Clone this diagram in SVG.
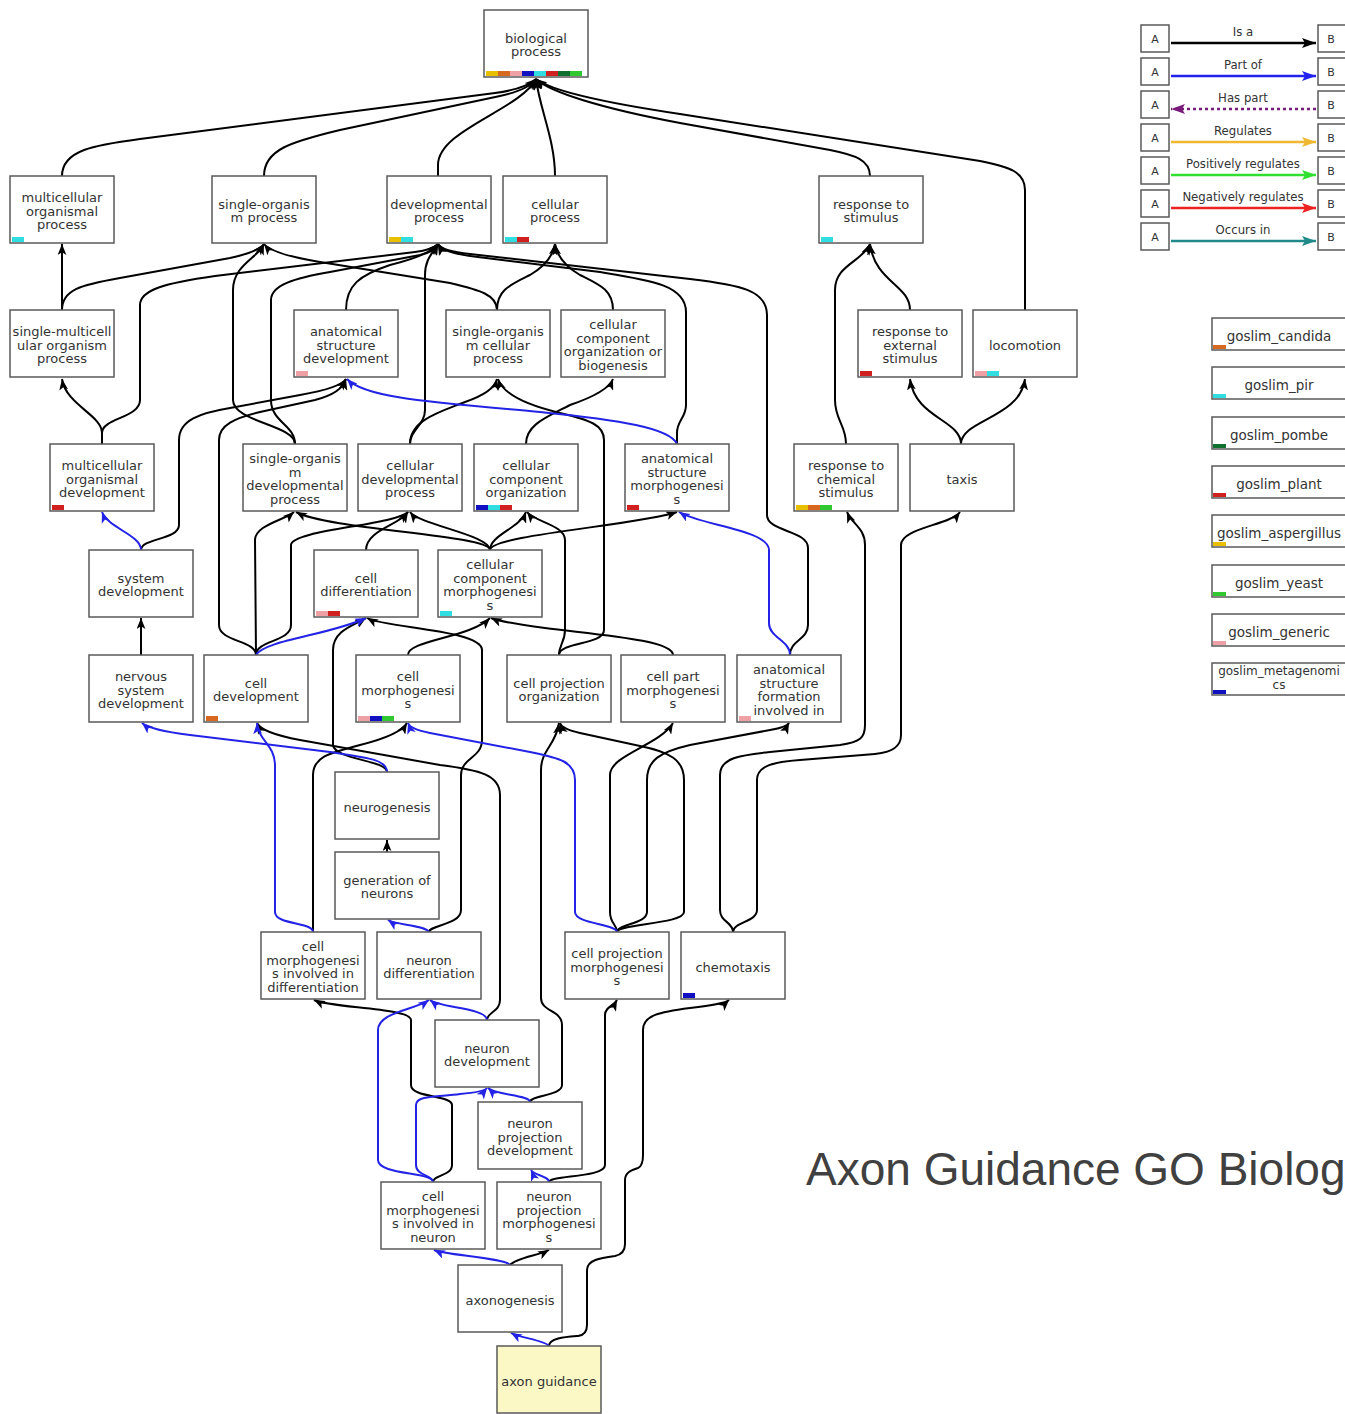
<svg xmlns="http://www.w3.org/2000/svg" width="1345" height="1414" viewBox="0 0 1345 1414">
<style>
.bx{fill:#fff;stroke:#5a5a5a;stroke-width:1.5}
.t{font-family:"DejaVu Sans",sans-serif;font-size:13px;fill:#333;text-anchor:middle}
.e{fill:none;stroke:#000;stroke-width:2;marker-end:url(#ak)}
.p{fill:none;stroke:#2323e6;stroke-width:2;marker-end:url(#ab)}
.y{fill:#e8c000}.o{fill:#d86820}.k{fill:#eea0a4}.b{fill:#1010c0}.c{fill:#30dde0}.r{fill:#d02020}.g{fill:#107030}.l{fill:#30c830}
.lt{font-family:"DejaVu Sans Condensed","DejaVu Sans",sans-serif;font-size:13px;fill:#333;text-anchor:middle}
.la{font-family:"DejaVu Sans",sans-serif;font-size:11px;fill:#333;text-anchor:middle}
.lb{fill:#fff;stroke:#5a5a5a;stroke-width:1.5}
.ll{fill:none;stroke-width:2.5}
.gs{font-family:"DejaVu Sans",sans-serif;font-size:13.5px;fill:#333;text-anchor:middle}
</style>
<defs>
<marker id="ak" viewBox="0 0 10 8" refX="10" refY="4" markerWidth="11" markerHeight="9" markerUnits="userSpaceOnUse" orient="auto"><path d="M0,0 L10,4 L0,8 L2.5,4 z" fill="#000"/></marker>
<marker id="ab" viewBox="0 0 10 8" refX="10" refY="4" markerWidth="11" markerHeight="9" markerUnits="userSpaceOnUse" orient="auto"><path d="M0,0 L10,4 L0,8 L2.5,4 z" fill="#2323e6"/></marker>
<marker id="m0" viewBox="0 0 14 10" refX="14" refY="5" markerWidth="14" markerHeight="10" markerUnits="userSpaceOnUse" orient="auto"><path d="M0,0 L14,5 L0,10 L3,5 z" fill="#000"/></marker>
<marker id="m1" viewBox="0 0 14 10" refX="14" refY="5" markerWidth="14" markerHeight="10" markerUnits="userSpaceOnUse" orient="auto"><path d="M0,0 L14,5 L0,10 L3,5 z" fill="#2222ee"/></marker>
<marker id="m2" viewBox="0 0 14 10" refX="14" refY="5" markerWidth="14" markerHeight="10" markerUnits="userSpaceOnUse" orient="auto"><path d="M0,0 L14,5 L0,10 L3,5 z" fill="#7a1a7a"/></marker>
<marker id="m3" viewBox="0 0 14 10" refX="14" refY="5" markerWidth="14" markerHeight="10" markerUnits="userSpaceOnUse" orient="auto"><path d="M0,0 L14,5 L0,10 L3,5 z" fill="#f0b830"/></marker>
<marker id="m4" viewBox="0 0 14 10" refX="14" refY="5" markerWidth="14" markerHeight="10" markerUnits="userSpaceOnUse" orient="auto"><path d="M0,0 L14,5 L0,10 L3,5 z" fill="#30e030"/></marker>
<marker id="m5" viewBox="0 0 14 10" refX="14" refY="5" markerWidth="14" markerHeight="10" markerUnits="userSpaceOnUse" orient="auto"><path d="M0,0 L14,5 L0,10 L3,5 z" fill="#ee2222"/></marker>
<marker id="m6" viewBox="0 0 14 10" refX="14" refY="5" markerWidth="14" markerHeight="10" markerUnits="userSpaceOnUse" orient="auto"><path d="M0,0 L14,5 L0,10 L3,5 z" fill="#208a8a"/></marker>
</defs>

<g id="connectors">
<path class="e" d="M62,176 C62,150 95,145 140,139 L495,93 Q525,89 536,79"/>
<path class="e" d="M264,176 C264,150 290,142 340,130 L500,96 Q528,90 536,79"/>
<path class="e" d="M438,176 L438,165 C438,130 520,110 536,79"/>
<path class="e" d="M555,176 C555,140 540,110 536,79"/>
<path class="e" d="M870,176 C870,160 855,155 830,150 L680,123 C600,108 550,92 536,79"/>
<path class="e" d="M1025,310 L1025,190 C1025,172 1010,167 980,161 L680,114 C600,102 550,90 536,79"/>
<path class="e" d="M62,310 L62,244"/>
<path class="e" d="M62,310 C62,290 80,285 120,278 L230,258 Q258,252 264,244"/>
<path class="e" d="M102,444 L102,433 C102,415 66,405 62,379"/>
<path class="e" d="M102,444 L102,433 C102,418 140,418 140,400 L140,305 C140,290 165,283 215,276 L415,252 Q432,250 438,244"/>
<path class="e" d="M295,444 C295,425 233,422 233,400 L233,290 C233,265 258,258 264,244"/>
<path class="e" d="M295,444 C295,425 271,422 271,400 L271,300 C271,285 295,278 330,272 L420,255 Q434,252 438,244"/>
<path class="e" d="M346,310 C346,285 360,275 390,265 Q430,255 438,244"/>
<path class="e" d="M410,444 C410,430 425,425 425,410 L425,275 C425,258 434,252 438,244"/>
<path class="e" d="M497,310 C497,295 480,290 450,283 L320,262 Q272,254 264,244"/>
<path class="e" d="M497,310 C497,290 510,285 530,275 Q552,262 555,244"/>
<path class="e" d="M613,310 C613,290 600,285 580,275 Q558,262 555,244"/>
<path class="e" d="M677,444 L677,433 C677,420 686,418 686,405 L686,312 C686,285 650,280 600,272 L470,256 Q442,252 438,244"/>
<path class="e" d="M790,655 C790,640 808,640 808,625 L808,548 C808,530 767,532 767,515 L767,315 C767,290 740,285 690,279 L470,254 Q442,251 438,244"/>
<path class="e" d="M410,444 C410,420 440,412 465,402 Q494,392 497,379"/>
<path class="e" d="M526,444 C526,425 545,418 570,405 Q608,392 613,379"/>
<path class="e" d="M141,550 C141,538 179,540 179,525 L179,440 C179,420 200,413 230,408 L300,395 Q340,388 346,379"/>
<path class="e" d="M256,655 C256,640 219,642 219,625 L219,440 C219,425 235,418 260,412 L315,400 Q342,393 346,379"/>
<path class="e" d="M256,655 L255,540 C255,525 285,520 294,512"/>
<path class="e" d="M256,655 C256,640 291,642 291,625 L291,545 C291,530 395,525 408,512"/>
<path class="e" d="M366,550 C366,530 400,525 408,512"/>
<path class="e" d="M490,550 C490,535 330,530 296,512"/>
<path class="e" d="M490,550 C490,535 420,525 410,512"/>
<path class="e" d="M490,550 C490,535 520,528 526,512"/>
<path class="e" d="M490,550 C490,535 640,525 677,512"/>
<path class="e" d="M559,655 C559,645 565,642 565,630 L565,540 C565,525 535,522 527,512"/>
<path class="e" d="M559,655 C559,642 604,645 604,630 L604,440 C604,425 590,420 560,413 Q505,400 498,379"/>
<path class="e" d="M673,655 C673,640 600,635 545,628 Q500,622 491,618"/>
<path class="e" d="M408,655 C408,640 470,638 490,618"/>
<path class="e" d="M141,655 L141,618"/>
<path class="e" d="M387,772 C387,760 335,760 333,745 L333,650 C333,630 355,625 366,618"/>
<path class="e" d="M387,852 L387,840"/>
<path class="e" d="M429,932 C429,925 461,925 461,910 L461,775 C461,758 482,758 482,740 L482,650 C482,630 385,628 367,618"/>
<path class="e" d="M313,932 L313,775 C313,755 335,752 360,745 Q400,735 407,723"/>
<path class="e" d="M487,1020 C487,1012 500,1012 500,1000 L500,795 C500,775 480,770 440,765 L300,740 Q262,733 257,723"/>
<path class="e" d="M433,1182 C433,1175 452,1176 452,1165 L452,1105 C452,1095 411,1098 411,1085 L411,1020 C411,1008 330,1008 314,1000"/>
<path class="e" d="M530,1102 C530,1095 562,1096 562,1085 L562,1025 C562,1010 541,1012 541,998 L541,770 C541,750 556,745 559,723"/>
<path class="e" d="M549,1182 C549,1175 605,1178 605,1165 L605,1015 C605,1007 614,1006 617,1000"/>
<path class="e" d="M510,1265 C515,1258 540,1255 549,1250"/>
<path class="e" d="M549,1346 C549,1338 565,1337 578,1336 Q587,1335 587,1325 L587,1270 C587,1260 600,1258 615,1256 Q625,1254 625,1244 L625,1180 C625,1172 632,1170 638,1168 Q643,1166 643,1155 L643,1030 C643,1015 660,1012 690,1008 Q725,1004 729,1000"/>
<path class="e" d="M617,932 C617,924 610,924 610,912 L610,775 C610,755 660,745 673,723"/>
<path class="e" d="M617,932 C617,924 647,924 647,912 L647,780 C647,760 660,752 690,745 L770,730 Q787,727 789,723"/>
<path class="e" d="M617,932 C617,924 684,924 684,912 L684,780 C684,760 670,752 640,746 L580,733 Q562,729 560,723"/>
<path class="e" d="M733,932 C733,922 720,922 720,910 L720,775 C720,758 740,755 770,752 L840,745 C860,742 865,738 865,725 L865,545 C865,528 852,524 847,512"/>
<path class="e" d="M733,932 C733,922 757,922 757,910 L757,780 C757,765 775,762 800,760 L875,754 C895,752 901,745 901,735 L901,545 C901,528 950,525 960,512"/>
<path class="e" d="M846,444 C846,425 835,420 835,400 L835,290 C835,265 862,262 870,244"/>
<path class="e" d="M910,310 C910,285 875,282 870,244"/>
<path class="e" d="M961,444 C961,420 915,418 910,379"/>
<path class="e" d="M961,444 C961,420 1020,418 1025,379"/>
<path class="p" d="M790,655 C790,640 769,638 769,623 L769,550 C769,530 700,525 679,512"/>
<path class="p" d="M677,444 C670,428 620,420 540,412 C430,402 365,398 347,379"/>
<path class="p" d="M141,550 C141,535 108,528 102,512"/>
<path class="p" d="M256,655 C265,640 330,635 366,618"/>
<path class="p" d="M387,772 C387,760 370,758 330,752 L190,735 Q150,730 142,723"/>
<path class="p" d="M429,932 C425,925 395,925 388,920"/>
<path class="p" d="M313,932 C313,922 275,925 275,912 L275,765 C275,745 258,740 257,723"/>
<path class="p" d="M487,1020 C487,1008 440,1008 430,1000"/>
<path class="p" d="M433,1182 C433,1172 378,1175 378,1160 L378,1030 C378,1012 415,1010 429,1000"/>
<path class="p" d="M433,1182 C433,1175 416,1176 416,1165 L416,1105 C416,1095 440,1097 460,1094 Q484,1092 487,1088"/>
<path class="p" d="M530,1102 C530,1095 495,1095 488,1088"/>
<path class="p" d="M549,1182 C549,1176 533,1175 531,1170"/>
<path class="p" d="M510,1265 C505,1258 445,1255 434,1250"/>
<path class="p" d="M549,1346 C545,1340 520,1338 511,1333"/>
<path class="p" d="M617,932 C617,924 575,924 575,912 L575,780 C575,762 560,758 530,752 L430,733 Q410,729 408,723"/>
</g>

<g id="n-bp"><rect class="bx" x="484" y="10" width="104" height="67"/><text class="t"><tspan x="536" y="42.8">biological</tspan><tspan x="536" y="56.2">process</tspan></text><rect class="y" x="486" y="71" width="12" height="5"/><rect class="o" x="498" y="71" width="12" height="5"/><rect class="k" x="510" y="71" width="12" height="5"/><rect class="b" x="522" y="71" width="12" height="5"/><rect class="c" x="534" y="71" width="12" height="5"/><rect class="r" x="546" y="71" width="12" height="5"/><rect class="g" x="558" y="71" width="12" height="5"/><rect class="l" x="570" y="71" width="12" height="5"/></g>
<g id="n-mop"><rect class="bx" x="10" y="176" width="104" height="67"/><text class="t"><tspan x="62" y="202.1">multicellular</tspan><tspan x="62" y="215.5">organismal</tspan><tspan x="62" y="228.9">process</tspan></text><rect class="c" x="12" y="237" width="12" height="5"/></g>
<g id="n-sop"><rect class="bx" x="212" y="176" width="104" height="67"/><text class="t"><tspan x="264" y="208.8">single-organis</tspan><tspan x="264" y="222.2">m process</tspan></text></g>
<g id="n-dp"><rect class="bx" x="387" y="176" width="104" height="67"/><text class="t"><tspan x="439" y="208.8">developmental</tspan><tspan x="439" y="222.2">process</tspan></text><rect class="y" x="389" y="237" width="12" height="5"/><rect class="c" x="401" y="237" width="12" height="5"/></g>
<g id="n-cp"><rect class="bx" x="503" y="176" width="104" height="67"/><text class="t"><tspan x="555" y="208.8">cellular</tspan><tspan x="555" y="222.2">process</tspan></text><rect class="c" x="505" y="237" width="12" height="5"/><rect class="r" x="517" y="237" width="12" height="5"/></g>
<g id="n-rs"><rect class="bx" x="819" y="176" width="104" height="67"/><text class="t"><tspan x="871" y="208.8">response to</tspan><tspan x="871" y="222.2">stimulus</tspan></text><rect class="c" x="821" y="237" width="12" height="5"/></g>

<g id="n-smop"><rect class="bx" x="10" y="310" width="104" height="67"/><text class="t"><tspan x="62" y="336.1">single-multicell</tspan><tspan x="62" y="349.5">ular organism</tspan><tspan x="62" y="362.9">process</tspan></text></g>
<g id="n-asd"><rect class="bx" x="294" y="310" width="104" height="67"/><text class="t"><tspan x="346" y="336.1">anatomical</tspan><tspan x="346" y="349.5">structure</tspan><tspan x="346" y="362.9">development</tspan></text><rect class="k" x="296" y="371" width="12" height="5"/></g>
<g id="n-socp"><rect class="bx" x="446" y="310" width="104" height="67"/><text class="t"><tspan x="498" y="336.1">single-organis</tspan><tspan x="498" y="349.5">m cellular</tspan><tspan x="498" y="362.9">process</tspan></text></g>
<g id="n-ccob"><rect class="bx" x="561" y="310" width="104" height="67"/><text class="t"><tspan x="613" y="329.4">cellular</tspan><tspan x="613" y="342.8">component</tspan><tspan x="613" y="356.2">organization or</tspan><tspan x="613" y="369.6">biogenesis</tspan></text></g>
<g id="n-res"><rect class="bx" x="858" y="310" width="104" height="67"/><text class="t"><tspan x="910" y="336.1">response to</tspan><tspan x="910" y="349.5">external</tspan><tspan x="910" y="362.9">stimulus</tspan></text><rect class="r" x="860" y="371" width="12" height="5"/></g>
<g id="n-loc"><rect class="bx" x="973" y="310" width="104" height="67"/><text class="t"><tspan x="1025" y="349.5">locomotion</tspan></text><rect class="k" x="975" y="371" width="12" height="5"/><rect class="c" x="987" y="371" width="12" height="5"/></g>

<g id="n-mod"><rect class="bx" x="50" y="444" width="104" height="67"/><text class="t"><tspan x="102" y="470.1">multicellular</tspan><tspan x="102" y="483.5">organismal</tspan><tspan x="102" y="496.9">development</tspan></text><rect class="r" x="52" y="505" width="12" height="5"/></g>
<g id="n-sodp"><rect class="bx" x="243" y="444" width="104" height="67"/><text class="t"><tspan x="295" y="463.4">single-organis</tspan><tspan x="295" y="476.8">m</tspan><tspan x="295" y="490.2">developmental</tspan><tspan x="295" y="503.6">process</tspan></text></g>
<g id="n-cdp"><rect class="bx" x="358" y="444" width="104" height="67"/><text class="t"><tspan x="410" y="470.1">cellular</tspan><tspan x="410" y="483.5">developmental</tspan><tspan x="410" y="496.9">process</tspan></text></g>
<g id="n-cco"><rect class="bx" x="474" y="444" width="104" height="67"/><text class="t"><tspan x="526" y="470.1">cellular</tspan><tspan x="526" y="483.5">component</tspan><tspan x="526" y="496.9">organization</tspan></text><rect class="b" x="476" y="505" width="12" height="5"/><rect class="c" x="488" y="505" width="12" height="5"/><rect class="r" x="500" y="505" width="12" height="5"/></g>
<g id="n-asm"><rect class="bx" x="625" y="444" width="104" height="67"/><text class="t"><tspan x="677" y="463.4">anatomical</tspan><tspan x="677" y="476.8">structure</tspan><tspan x="677" y="490.2">morphogenesi</tspan><tspan x="677" y="503.6">s</tspan></text><rect class="r" x="627" y="505" width="12" height="5"/></g>
<g id="n-rcs"><rect class="bx" x="794" y="444" width="104" height="67"/><text class="t"><tspan x="846" y="470.1">response to</tspan><tspan x="846" y="483.5">chemical</tspan><tspan x="846" y="496.9">stimulus</tspan></text><rect class="y" x="796" y="505" width="12" height="5"/><rect class="o" x="808" y="505" width="12" height="5"/><rect class="l" x="820" y="505" width="12" height="5"/></g>
<g id="n-taxis"><rect class="bx" x="910" y="444" width="104" height="67"/><text class="t"><tspan x="962" y="483.5">taxis</tspan></text></g>

<g id="n-sd"><rect class="bx" x="89" y="550" width="104" height="67"/><text class="t"><tspan x="141" y="582.8">system</tspan><tspan x="141" y="596.2">development</tspan></text></g>
<g id="n-cdiff"><rect class="bx" x="314" y="550" width="104" height="67"/><text class="t"><tspan x="366" y="582.8">cell</tspan><tspan x="366" y="596.2">differentiation</tspan></text><rect class="k" x="316" y="611" width="12" height="5"/><rect class="r" x="328" y="611" width="12" height="5"/></g>
<g id="n-ccm"><rect class="bx" x="438" y="550" width="104" height="67"/><text class="t"><tspan x="490" y="569.4">cellular</tspan><tspan x="490" y="582.8">component</tspan><tspan x="490" y="596.2">morphogenesi</tspan><tspan x="490" y="609.6">s</tspan></text><rect class="c" x="440" y="611" width="12" height="5"/></g>

<g id="n-nsd"><rect class="bx" x="89" y="655" width="104" height="67"/><text class="t"><tspan x="141" y="681.1">nervous</tspan><tspan x="141" y="694.5">system</tspan><tspan x="141" y="707.9">development</tspan></text></g>
<g id="n-cdev"><rect class="bx" x="204" y="655" width="104" height="67"/><text class="t"><tspan x="256" y="687.8">cell</tspan><tspan x="256" y="701.2">development</tspan></text><rect class="o" x="206" y="716" width="12" height="5"/></g>
<g id="n-cm"><rect class="bx" x="356" y="655" width="104" height="67"/><text class="t"><tspan x="408" y="681.1">cell</tspan><tspan x="408" y="694.5">morphogenesi</tspan><tspan x="408" y="707.9">s</tspan></text><rect class="k" x="358" y="716" width="12" height="5"/><rect class="b" x="370" y="716" width="12" height="5"/><rect class="l" x="382" y="716" width="12" height="5"/></g>
<g id="n-cpo"><rect class="bx" x="507" y="655" width="104" height="67"/><text class="t"><tspan x="559" y="687.8">cell projection</tspan><tspan x="559" y="701.2">organization</tspan></text></g>
<g id="n-cpartm"><rect class="bx" x="621" y="655" width="104" height="67"/><text class="t"><tspan x="673" y="681.1">cell part</tspan><tspan x="673" y="694.5">morphogenesi</tspan><tspan x="673" y="707.9">s</tspan></text></g>
<g id="n-asf"><rect class="bx" x="737" y="655" width="104" height="67"/><text class="t"><tspan x="789" y="674.4">anatomical</tspan><tspan x="789" y="687.8">structure</tspan><tspan x="789" y="701.2">formation</tspan><tspan x="789" y="714.6">involved in</tspan></text><rect class="k" x="739" y="716" width="12" height="5"/></g>

<g id="n-ng"><rect class="bx" x="335" y="772" width="104" height="67"/><text class="t"><tspan x="387" y="811.5">neurogenesis</tspan></text></g>
<g id="n-gn"><rect class="bx" x="335" y="852" width="104" height="67"/><text class="t"><tspan x="387" y="884.8">generation of</tspan><tspan x="387" y="898.2">neurons</tspan></text></g>

<g id="n-cmid"><rect class="bx" x="261" y="932" width="104" height="67"/><text class="t"><tspan x="313" y="951.4">cell</tspan><tspan x="313" y="964.8">morphogenesi</tspan><tspan x="313" y="978.2">s involved in</tspan><tspan x="313" y="991.6">differentiation</tspan></text></g>
<g id="n-nd"><rect class="bx" x="377" y="932" width="104" height="67"/><text class="t"><tspan x="429" y="964.8">neuron</tspan><tspan x="429" y="978.2">differentiation</tspan></text></g>
<g id="n-cpm"><rect class="bx" x="565" y="932" width="104" height="67"/><text class="t"><tspan x="617" y="958.1">cell projection</tspan><tspan x="617" y="971.5">morphogenesi</tspan><tspan x="617" y="984.9">s</tspan></text></g>
<g id="n-chem"><rect class="bx" x="681" y="932" width="104" height="67"/><text class="t"><tspan x="733" y="971.5">chemotaxis</tspan></text><rect class="b" x="683" y="993" width="12" height="5"/></g>

<g id="n-ndev"><rect class="bx" x="435" y="1020" width="104" height="67"/><text class="t"><tspan x="487" y="1052.8">neuron</tspan><tspan x="487" y="1066.2">development</tspan></text></g>
<g id="n-npd"><rect class="bx" x="478" y="1102" width="104" height="67"/><text class="t"><tspan x="530" y="1128.1">neuron</tspan><tspan x="530" y="1141.5">projection</tspan><tspan x="530" y="1154.9">development</tspan></text></g>
<g id="n-cmin"><rect class="bx" x="381" y="1182" width="104" height="67"/><text class="t"><tspan x="433" y="1201.4">cell</tspan><tspan x="433" y="1214.8">morphogenesi</tspan><tspan x="433" y="1228.2">s involved in</tspan><tspan x="433" y="1241.6">neuron</tspan></text></g>
<g id="n-npm"><rect class="bx" x="497" y="1182" width="104" height="67"/><text class="t"><tspan x="549" y="1201.4">neuron</tspan><tspan x="549" y="1214.8">projection</tspan><tspan x="549" y="1228.2">morphogenesi</tspan><tspan x="549" y="1241.6">s</tspan></text></g>
<g id="n-axg"><rect class="bx" x="458" y="1265" width="104" height="67"/><text class="t"><tspan x="510" y="1304.5">axonogenesis</tspan></text></g>
<g id="n-ag"><rect class="bx" x="497" y="1346" width="104" height="67" style="fill:#fbf8c6"/><text class="t"><tspan x="549" y="1385.5">axon guidance</tspan></text></g>

<g id="legend">
<rect class="lb" x="1141" y="25" width="28" height="27"/><text class="la" x="1155" y="43">A</text><path class="lb" d="M1345,25 H1318 V52 H1345"/><text class="la" x="1331" y="43">B</text><text class="lt" x="1243" y="36">Is a</text><path class="ll" stroke="#000" marker-end="url(#m0)" d="M1171,43 L1316,43"/>
<rect class="lb" x="1141" y="58" width="28" height="27"/><text class="la" x="1155" y="76">A</text><path class="lb" d="M1345,58 H1318 V85 H1345"/><text class="la" x="1331" y="76">B</text><text class="lt" x="1243" y="69">Part of</text><path class="ll" stroke="#2222ee" marker-end="url(#m1)" d="M1171,76 L1316,76"/>
<rect class="lb" x="1141" y="91" width="28" height="27"/><text class="la" x="1155" y="109">A</text><path class="lb" d="M1345,91 H1318 V118 H1345"/><text class="la" x="1331" y="109">B</text><text class="lt" x="1243" y="102">Has part</text><path class="ll" stroke="#7a1a7a" stroke-dasharray="3,3" marker-end="url(#m2)" d="M1316,109 L1171,109"/>
<rect class="lb" x="1141" y="124" width="28" height="27"/><text class="la" x="1155" y="142">A</text><path class="lb" d="M1345,124 H1318 V151 H1345"/><text class="la" x="1331" y="142">B</text><text class="lt" x="1243" y="135">Regulates</text><path class="ll" stroke="#f0b830" marker-end="url(#m3)" d="M1171,142 L1316,142"/>
<rect class="lb" x="1141" y="157" width="28" height="27"/><text class="la" x="1155" y="175">A</text><path class="lb" d="M1345,157 H1318 V184 H1345"/><text class="la" x="1331" y="175">B</text><text class="lt" x="1243" y="168">Positively regulates</text><path class="ll" stroke="#30e030" marker-end="url(#m4)" d="M1171,175 L1316,175"/>
<rect class="lb" x="1141" y="190" width="28" height="27"/><text class="la" x="1155" y="208">A</text><path class="lb" d="M1345,190 H1318 V217 H1345"/><text class="la" x="1331" y="208">B</text><text class="lt" x="1243" y="201">Negatively regulates</text><path class="ll" stroke="#ee2222" marker-end="url(#m5)" d="M1171,208 L1316,208"/>
<rect class="lb" x="1141" y="223" width="28" height="27"/><text class="la" x="1155" y="241">A</text><path class="lb" d="M1345,223 H1318 V250 H1345"/><text class="la" x="1331" y="241">B</text><text class="lt" x="1243" y="234">Occurs in</text><path class="ll" stroke="#208a8a" marker-end="url(#m6)" d="M1171,241 L1316,241"/>
</g>

<g id="goslim">
<path class="lb" d="M1345,318 H1212 V350 H1345"/><rect class="o" x="1213" y="345" width="13" height="4"/><text class="gs" x="1279" y="341">goslim_candida</text>
<path class="lb" d="M1345,367 H1212 V399 H1345"/><rect class="c" x="1213" y="394" width="13" height="4"/><text class="gs" x="1279" y="390">goslim_pir</text>
<path class="lb" d="M1345,417 H1212 V449 H1345"/><rect class="g" x="1213" y="444" width="13" height="4"/><text class="gs" x="1279" y="440">goslim_pombe</text>
<path class="lb" d="M1345,466 H1212 V498 H1345"/><rect class="r" x="1213" y="493" width="13" height="4"/><text class="gs" x="1279" y="489">goslim_plant</text>
<path class="lb" d="M1345,515 H1212 V547 H1345"/><rect class="y" x="1213" y="542" width="13" height="4"/><text class="gs" x="1279" y="538">goslim_aspergillus</text>
<path class="lb" d="M1345,565 H1212 V597 H1345"/><rect class="l" x="1213" y="592" width="13" height="4"/><text class="gs" x="1279" y="588">goslim_yeast</text>
<path class="lb" d="M1345,614 H1212 V646 H1345"/><rect class="k" x="1213" y="641" width="13" height="4"/><text class="gs" x="1279" y="637">goslim_generic</text>
<path class="lb" d="M1345,663 H1212 V695 H1345"/><rect class="b" x="1213" y="690" width="13" height="4"/><text class="gs" style="font-size:12px"><tspan x="1279" y="675">goslim_metagenomi</tspan><tspan x="1279" y="689">cs</tspan></text>
</g>

<text x="806" y="1185" font-family="Liberation Sans, Arial, sans-serif" font-size="46" fill="#404040">Axon Guidance GO Biolog</text>
</svg>
